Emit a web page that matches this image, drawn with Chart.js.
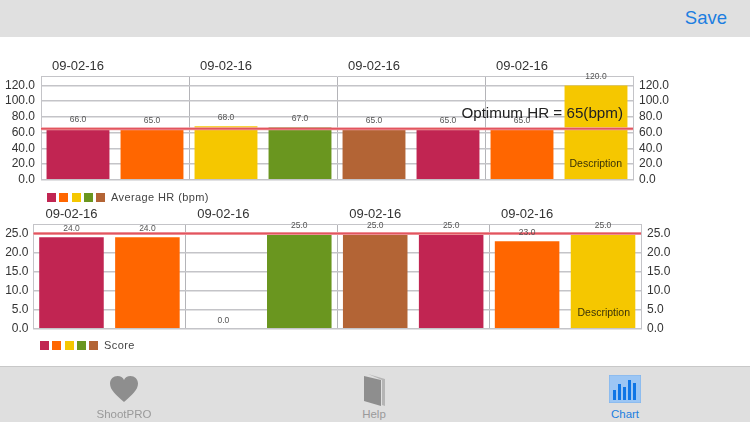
<!DOCTYPE html>
<html>
<head>
<meta charset="utf-8">
<script src="https://cdn.jsdelivr.net/npm/chart.js@4"></script>
<style>
  html, body { margin: 0; padding: 0; width: 750px; height: 422px; overflow: hidden; background: #fff; font-family: "Liberation Sans", sans-serif; }
  canvas { position: absolute; left: 0; }
  #topbar { position: absolute; left: 0; top: 0; width: 750px; height: 37px; background: #e0e0e0; }
  #save { position: absolute; right: 23px; top: 7px; font-size: 18.5px; color: #1c7ee0; }
  #tabbar { position: absolute; left: 0; top: 366px; width: 750px; height: 56px; background: #dfdfdf; border-top: 1px solid #c8c8c8; box-sizing: border-box; }
  .tab { position: absolute; top: 41px; font-size: 11.5px; color: #9a9a9a; transform: translateX(-50%); }
  .legend { position: absolute; height: 12px; font-size: 11px; color: #444; letter-spacing: 0.4px; white-space: nowrap; }
  .legend i { position: absolute; top: 1px; width: 9px; height: 9px; }
  .legend span { position: absolute; top: -1px; }
  svg { position: absolute; }
</style>
</head>
<body>
<div id="topbar"><div id="save">Save</div></div>
<canvas id="hrChart" style="top:40px"></canvas>
<canvas id="scoreChart" style="top:200px"></canvas>
<div id="hrLegend" class="legend" style="left:47px;top:192px"></div>
<div id="scoreLegend" class="legend" style="left:40px;top:340px"></div>
<div id="tabbar">
  <svg style="left:110px;top:9px" width="28" height="26" viewBox="0 0 28 26"><path d="M14 26C6 19 0 14 0 7.500C0 3 3.500 0 7.500 0C10.500 0 13 1.500 14 4C15 1.500 17.500 0 20.500 0C24.500 0 28 3 28 7.500C28 14 22 19 14 26Z" fill="#8e8e8e"/></svg>
  <svg style="left:364px;top:7px" width="21" height="32" viewBox="0 0 21 32"><path d="M4 0L21 5V32L18 31V6Z" fill="#b5b5b5"/><path d="M0 2L17 6V32L0 27Z" fill="#8e8e8e"/></svg>
  <svg style="left:609px;top:8px" width="32" height="28" viewBox="0 0 32 28"><rect width="32" height="28" fill="#9cc6f4" stroke="#7fb2ea"/><g fill="#0f76e6"><rect x="4" y="15" width="3" height="10"/><rect x="9" y="9" width="3" height="16"/><rect x="14" y="12" width="3" height="13"/><rect x="19" y="5" width="3" height="20"/><rect x="24" y="8" width="3" height="17"/></g></svg>
  <div class="tab" style="left:124px">ShootPRO</div>
  <div class="tab" style="left:374px">Help</div>
  <div class="tab" style="left:625px;color:#1c7ee0">Chart</div>
</div>
<script>
const dateLabels = ["09-02-16", "", "09-02-16", "", "09-02-16", "", "09-02-16", ""];
const hrValues = [66, 65, 68, 67, 65, 65, 65, 120];
const scoreValues = [24, 24, 0, 25, 25, 25, 23, 25];
const hrTicks = [0, 20, 40, 60, 80, 100, 120];
const scoreTicks = [0, 5, 10, 15, 20, 25];
const hrMax = 132;
const scoreMax = 27.5;
const hrLimit = 65;
const scoreLimit = 25;
const barColors = ["#c12552", "#ff6600", "#f5c700", "#6a961f", "#b36435", "#c12552", "#ff6600", "#f5c700"];
const legendColors = ["#c12552", "#ff6600", "#f5c700", "#6a961f", "#b36435"];

const FONT = "'Liberation Sans', sans-serif";
const GRID = "#c4c4c8";

// value labels, limit line and description are drawn over the bars
const overlay = {
  id: "overlay",
  afterDatasetsDraw(chart, args, opts) {
    const ctx = chart.ctx;
    const area = chart.chartArea;
    const y = chart.scales.y;
    const limitY = y.getPixelForValue(opts.limit);

    ctx.save();
    ctx.strokeStyle = "#f0a0a4";
    ctx.lineWidth = 3;
    ctx.beginPath();
    ctx.moveTo(area.left, limitY);
    ctx.lineTo(area.right, limitY);
    ctx.stroke();
    ctx.strokeStyle = "#e2545f";
    ctx.lineWidth = 1.5;
    ctx.stroke();

    ctx.font = "8.5px " + FONT;
    ctx.fillStyle = "#555";
    ctx.textAlign = "center";
    ctx.textBaseline = "alphabetic";
    chart.getDatasetMeta(0).data.forEach((bar, i) => {
      const v = chart.data.datasets[0].data[i];
      ctx.fillText(v.toFixed(1), bar.x, bar.y - 6);
    });

    if (opts.limitText) {
      ctx.font = "15.2px " + FONT;
      ctx.fillStyle = "#222";
      ctx.textAlign = "right";
      ctx.fillText(opts.limitText, area.right - 10, limitY - 11);
    }

    ctx.font = "10.5px " + FONT;
    ctx.fillStyle = "#3a3208";
    ctx.textAlign = "right";
    ctx.textBaseline = "middle";
    ctx.fillText("Description", area.right - opts.descRight, area.bottom - opts.descBottom);
    ctx.restore();
  }
};

function makeChart(id, height, values, yTicks, yMax, limit, geo) {
  const el = document.getElementById(id);
  el.width = 750;
  el.height = height;
  const yAxis = (position, width, pad) => ({
    position: position,
    min: 0,
    max: yMax,
    border: { color: GRID, width: 1 },
    grid: { color: GRID, lineWidth: 1.5, drawTicks: false, drawOnChartArea: position === "left" },
    afterBuildTicks: scale => { scale.ticks = yTicks.map(v => ({ value: v })); },
    afterFit: scale => { scale.width = width; },
    ticks: { autoSkip: false, padding: pad, color: "#333", font: { family: FONT, size: 12 }, callback: v => v.toFixed(1) }
  });
  return new Chart(el, {
    type: "bar",
    data: {
      labels: dateLabels,
      datasets: [{ data: values, backgroundColor: barColors, barPercentage: 0.85, categoryPercentage: 1 }]
    },
    options: {
      responsive: false,
      animation: false,
      layout: { padding: { bottom: geo.bottom } },
      plugins: {
        legend: { display: false },
        tooltip: { enabled: false },
        overlay: { limit: limit, limitText: geo.limitText, descRight: geo.descRight, descBottom: geo.descBottom }
      },
      scales: {
        x: {
          position: "top",
          border: { color: GRID, width: 1 },
          grid: { offset: true, drawTicks: false, lineWidth: 1, color: c => (c.index % 2 === 0 ? "#b4b4b8" : "transparent") },
          afterFit: scale => { scale.height = geo.top; },
          ticks: { autoSkip: false, maxRotation: 0, padding: 2, color: "#333", font: { family: FONT, size: 13 } }
        },
        y: yAxis("left", geo.left, geo.leftPad),
        y2: yAxis("right", geo.right, 6)
      }
    },
    plugins: [overlay]
  });
}

function makeLegend(id, text) {
  const box = document.getElementById(id);
  legendColors.forEach((c, i) => {
    const sw = document.createElement("i");
    sw.style.left = i * 12.3 + "px";
    sw.style.background = c;
    box.appendChild(sw);
  });
  const label = document.createElement("span");
  label.style.left = "64px";
  label.textContent = text;
  box.appendChild(label);
}

makeChart("hrChart", 153, hrValues, hrTicks, hrMax, hrLimit,
  { left: 41, right: 117, top: 36, bottom: 6, leftPad: 6, limitText: "Optimum HR = 65(bpm)", descRight: 11, descBottom: 16 });
makeChart("scoreChart", 142, scoreValues, scoreTicks, scoreMax, scoreLimit,
  { left: 33.5, right: 109, top: 24, bottom: 6, leftPad: 5, limitText: "", descRight: 11, descBottom: 16 });
makeLegend("hrLegend", "Average HR (bpm)");
makeLegend("scoreLegend", "Score");
</script>
</body>
</html>
